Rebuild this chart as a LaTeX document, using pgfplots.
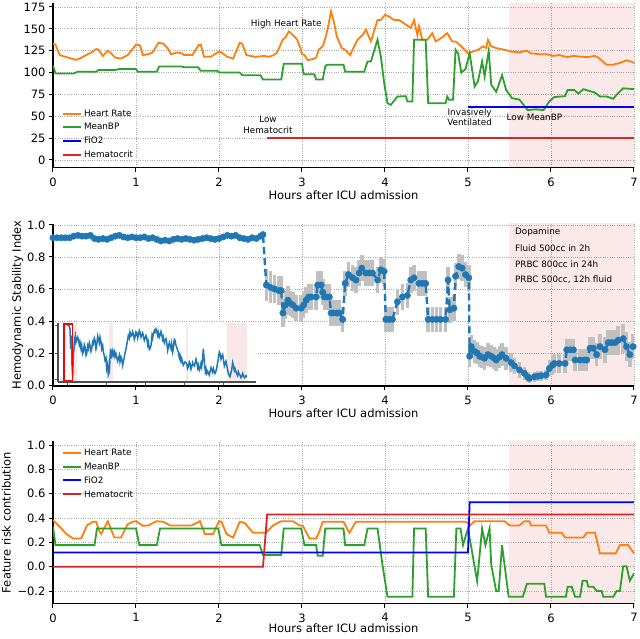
\documentclass[border=0pt]{standalone}
\usepackage{fontspec}
\setmainfont{DejaVu Sans}
\usepackage{pgfplots}
\pgfplotsset{compat=1.18}
\usepackage{pgfplotstable}
\definecolor{hr}{HTML}{FF7F0E}
\definecolor{bp}{HTML}{2CA02C}
\definecolor{fio}{HTML}{0000FF}
\definecolor{hct}{HTML}{D62728}
\definecolor{hsi}{HTML}{1F77B4}
\definecolor{errg}{RGB}{192,192,192}
\definecolor{gridc}{RGB}{170,170,170}
\definecolor{insetax}{RGB}{80,80,80}
\newcommand\tk{\fontsize{11.5}{13}\selectfont}
\newcommand\an{\fontsize{8.8}{10.5}\selectfont}

% ---------- top panel data ----------
\pgfplotstableread{
x y
0 133
0.03 132
0.08 120
0.15 118
0.22 116
0.28 114.5
0.32 116
0.4 120
0.48 124
0.52 127
0.55 126
0.6 119
0.66 125
0.7 122
0.75 117
0.82 116
0.9 120
0.96 127
1.0 132
1.05 131
1.08 120
1.15 121
1.2 123
1.27 134
1.33 133
1.38 128
1.42 121
1.5 123
1.55 122
1.58 120
1.68 120
1.75 131
1.78 132
1.82 118
1.9 118
2.0 124
2.03 123
2.1 118
2.17 116
2.25 134
2.28 133
2.33 120
2.43 118
2.55 119
2.6 118
2.66 120
2.7 123
2.77 138
2.8 140
2.84 147
2.88 144
2.94 138
2.98 128
3.0 121
3.03 120
3.07 114
3.15 116
3.17 117
3.2 126
3.25 130
3.28 139
3.31 150
3.35 170
3.38 160
3.42 141
3.48 128
3.52 126
3.58 120
3.63 130
3.67 137.5
3.73 143
3.77 149
3.83 135.6
3.91 160
3.95 160
4.0 166
4.05 164
4.11 160
4.17 160
4.25 155
4.31 151
4.35 160
4.39 143
4.41 153
4.45 137.5
4.51 137.5
4.57 145
4.61 135.6
4.67 139
4.75 145
4.81 135.6
4.85 135.6
4.92 130
5.0 122
5.06 124
5.12 126
5.18 130
5.22 128
5.24 137.5
5.28 130
5.34 128
5.44 126
5.52 124
5.62 123
5.7 125
5.76 122
5.86 121
5.96 121
6.02 119
6.1 120
6.2 117.6
6.26 119
6.43 117.6
6.53 119
6.57 117
6.67 109
6.75 109
6.83 111
6.91 114
6.95 113
7.0 111
}\tophr

\pgfplotstableread{
x y
0 108
0.03 99
0.25 99
0.3 101
0.52 101
0.55 103
0.75 103
0.8 104
1.0 104
1.02 101
1.25 101
1.28 107
1.55 107
1.58 106
1.75 106
1.78 102
1.98 102
2.0 100
2.25 100
2.28 97
2.5 97
2.53 92
2.75 92
2.78 110
3.0 110
3.02 98
3.15 98
3.17 92
3.25 92
3.28 107
3.3 109
3.5 109
3.52 101
3.75 101
3.79 112.7
3.83 112.7
3.91 137.5
3.95 118.5
3.99 88
4.03 65
4.07 63
4.15 72.6
4.25 73
4.27 67
4.33 67
4.35 137.5
4.49 137.5
4.52 65
4.73 65
4.75 72.6
4.77 69
4.82 69
4.85 126
4.88 122
4.92 100
4.97 104
5.02 122
5.08 84
5.12 90
5.17 112.7
5.2 95.5
5.25 125
5.28 86
5.34 78
5.41 97
5.46 80
5.53 70.7
5.62 69
5.72 57
5.82 58
5.91 57
5.98 67
6.04 72
6.17 73
6.2 80
6.28 80
6.33 76
6.39 81
6.53 77
6.59 72.6
6.67 72.6
6.75 70
6.79 74.5
6.87 82
7.0 81
}\topbp

% ---------- middle panel data ----------
\pgfplotstableread{
x y
0.00 0.92
0.05 0.92
0.10 0.92
0.15 0.92
0.20 0.92
0.25 0.93
0.30 0.935
0.35 0.93
0.40 0.93
0.45 0.935
0.50 0.915
0.55 0.91
0.60 0.915
0.65 0.91
0.70 0.92
0.75 0.93
0.80 0.935
0.85 0.925
0.90 0.92
0.95 0.925
1.00 0.92
1.05 0.92
1.10 0.925
1.15 0.915
1.20 0.92
1.25 0.91
1.30 0.90
1.35 0.905
1.40 0.90
1.45 0.91
1.50 0.915
1.55 0.91
1.60 0.915
1.65 0.91
1.70 0.905
1.75 0.91
1.80 0.915
1.85 0.92
1.90 0.915
1.95 0.91
2.00 0.915
2.05 0.925
2.10 0.935
2.15 0.93
2.20 0.935
2.25 0.92
2.30 0.915
2.35 0.91
2.40 0.92
2.45 0.915
2.50 0.93
2.53 0.94
2.57 0.625
2.62 0.61
2.67 0.60
2.72 0.59
2.75 0.59
2.77 0.45
2.80 0.50
2.83 0.53
2.86 0.51
2.89 0.50
2.93 0.48
2.99 0.48
3.02 0.50
3.05 0.53
3.08 0.55
3.11 0.55
3.17 0.55
3.19 0.625
3.23 0.625
3.25 0.58
3.27 0.55
3.30 0.55
3.33 0.55
3.35 0.45
3.38 0.45
3.42 0.45
3.45 0.45
3.49 0.41
3.52 0.635
3.56 0.69
3.61 0.67
3.65 0.656
3.69 0.70
3.72 0.73
3.77 0.70
3.81 0.70
3.85 0.70
3.91 0.656
3.95 0.72
3.99 0.71
4.01 0.41
4.05 0.41
4.09 0.41
4.15 0.52
4.21 0.55
4.27 0.56
4.31 0.656
4.35 0.67
4.41 0.635
4.45 0.635
4.49 0.635
4.52 0.41
4.57 0.41
4.62 0.41
4.67 0.41
4.73 0.41
4.76 0.656
4.78 0.47
4.83 0.48
4.85 0.68
4.89 0.74
4.93 0.73
4.97 0.69
5.01 0.67
5.02 0.18
5.04 0.24
5.08 0.21
5.11 0.20
5.14 0.18
5.17 0.175
5.20 0.167
5.24 0.19
5.28 0.18
5.31 0.17
5.34 0.156
5.38 0.175
5.41 0.19
5.46 0.167
5.52 0.14
5.56 0.12
5.62 0.094
5.68 0.073
5.72 0.05
5.74 0.042
5.80 0.052
5.84 0.055
5.88 0.058
5.94 0.0625
5.98 0.104
6.02 0.125
6.04 0.135
6.10 0.135
6.17 0.135
6.19 0.22
6.23 0.22
6.27 0.22
6.29 0.156
6.35 0.156
6.40 0.156
6.43 0.156
6.47 0.23
6.51 0.23
6.55 0.19
6.59 0.24
6.65 0.22
6.69 0.265
6.73 0.265
6.77 0.265
6.81 0.28
6.87 0.29
6.91 0.24
6.95 0.19
6.99 0.24
}\hsi

\pgfplotstableread{
x y e
2.57 0.625 0.10
2.62 0.61 0.10
2.67 0.60 0.09
2.72 0.59 0.09
2.75 0.59 0.09
2.77 0.45 0.09
2.80 0.50 0.09
2.83 0.53 0.09
2.86 0.51 0.08
2.89 0.50 0.08
2.93 0.48 0.08
2.99 0.48 0.08
3.02 0.50 0.08
3.05 0.53 0.08
3.08 0.55 0.08
3.11 0.55 0.08
3.17 0.55 0.08
3.19 0.625 0.09
3.23 0.625 0.09
3.25 0.58 0.08
3.27 0.55 0.08
3.30 0.55 0.08
3.33 0.55 0.08
3.35 0.45 0.08
3.38 0.45 0.08
3.42 0.45 0.08
3.45 0.45 0.08
3.49 0.41 0.08
3.52 0.635 0.08
3.56 0.69 0.08
3.61 0.67 0.08
3.65 0.656 0.08
3.69 0.70 0.08
3.72 0.73 0.08
3.77 0.70 0.08
3.81 0.70 0.08
3.85 0.70 0.08
3.91 0.656 0.08
3.95 0.72 0.08
3.99 0.71 0.08
4.01 0.41 0.08
4.05 0.41 0.08
4.09 0.41 0.08
4.15 0.52 0.08
4.21 0.55 0.08
4.27 0.56 0.08
4.31 0.656 0.08
4.35 0.67 0.08
4.41 0.635 0.08
4.45 0.635 0.08
4.49 0.635 0.08
4.52 0.41 0.08
4.57 0.41 0.08
4.62 0.41 0.08
4.67 0.41 0.08
4.73 0.41 0.08
4.76 0.656 0.08
4.78 0.47 0.08
4.83 0.48 0.08
4.85 0.68 0.08
4.89 0.74 0.08
4.93 0.73 0.08
4.97 0.69 0.08
5.01 0.67 0.08
5.02 0.18 0.07
5.04 0.24 0.07
5.08 0.21 0.07
5.11 0.20 0.07
5.14 0.18 0.07
5.17 0.175 0.07
5.20 0.167 0.07
5.24 0.19 0.07
5.28 0.18 0.07
5.31 0.17 0.07
5.34 0.156 0.07
5.38 0.175 0.07
5.41 0.19 0.07
5.46 0.167 0.07
5.52 0.14 0.06
5.56 0.12 0.05
5.62 0.094 0.05
5.68 0.073 0.04
5.72 0.05 0.03
5.74 0.042 0.03
5.80 0.052 0.03
5.84 0.055 0.03
5.88 0.058 0.03
5.94 0.0625 0.03
5.98 0.104 0.05
6.02 0.125 0.06
6.04 0.135 0.06
6.10 0.135 0.06
6.17 0.135 0.06
6.19 0.22 0.07
6.23 0.22 0.07
6.27 0.22 0.07
6.29 0.156 0.07
6.35 0.156 0.07
6.40 0.156 0.07
6.43 0.156 0.07
6.47 0.23 0.07
6.51 0.23 0.07
6.55 0.19 0.07
6.59 0.24 0.08
6.65 0.22 0.08
6.69 0.265 0.08
6.73 0.265 0.08
6.77 0.265 0.08
6.81 0.28 0.09
6.87 0.29 0.09
6.91 0.24 0.09
6.95 0.19 0.08
6.99 0.24 0.08
}\hsierr

% inset trace (inset's own units)
\pgfplotstableread{
x y
52 170
56 172
60 160
62 100
64 140
66 50
68 15
70 80
72 100
74 130
76 140
78 120
80 125
83 135
85 130
88 112
90 120
93 100
95 110
98 85
100 90
103 112
105 105
108 80
110 85
113 108
115 100
118 118
120 110
123 92
125 100
128 120
130 115
133 132
135 125
138 100
140 110
143 138
145 130
148 118
150 135
153 120
155 100
158 110
160 90
163 78
165 65
168 72
170 40
173 55
175 20
178 30
180 70
182 100
184 70
185 85
188 95
190 80
193 90
195 75
198 85
200 75
203 62
205 70
208 80
210 60
213 75
215 70
218 50
220 60
223 75
225 85
228 100
230 110
233 128
235 140
238 132
240 150
243 138
245 140
248 152
250 145
253 128
255 135
258 152
260 150
263 132
265 140
268 155
270 150
273 135
275 140
278 148
280 140
283 125
285 130
288 140
290 135
293 112
295 120
298 98
300 100
303 110
306 140
308 132
310 145
313 155
315 150
318 160
320 155
323 140
325 150
328 135
330 140
333 152
335 145
338 128
340 135
343 118
345 125
348 130
350 120
353 95
355 105
358 118
360 110
363 100
365 115
368 90
370 100
373 128
375 125
378 110
380 105
383 95
385 90
388 72
390 80
393 62
395 70
398 58
400 50
405 60
410 55
413 40
415 45
418 60
420 55
423 38
425 45
428 58
430 50
433 48
435 55
438 68
440 60
443 42
445 50
448 35
450 40
453 55
455 45
458 70
460 100
463 60
466 30
468 38
470 25
473 32
475 25
478 20
480 30
483 42
485 35
488 28
490 40
493 30
495 25
498 32
500 40
503 58
505 70
508 90
510 85
513 68
515 75
518 82
520 70
523 48
525 55
528 62
530 50
533 35
535 25
538 18
540 15
543 28
545 35
548 58
550 50
553 34
555 40
558 30
560 25
563 18
565 30
568 22
570 20
573 12
575 15
578 25
580 20
583 12
585 15
588 18
590 13
}\inset

% ---------- bottom panel data ----------
\pgfplotstableread{
x y
0 0.384
0.02 0.37
0.08 0.33
0.16 0.27
0.24 0.233
0.34 0.233
0.41 0.34
0.48 0.37
0.52 0.37
0.56 0.29
0.58 0.27
0.66 0.375
0.74 0.24
0.82 0.24
0.9 0.35
0.96 0.37
1.0 0.375
1.08 0.337
1.15 0.34
1.25 0.375
1.33 0.37
1.41 0.34
1.67 0.34
1.77 0.375
1.83 0.27
1.93 0.27
2.0 0.375
2.03 0.37
2.09 0.27
2.17 0.24
2.25 0.37
2.31 0.36
2.41 0.28
2.57 0.28
2.65 0.34
2.75 0.375
2.89 0.375
2.97 0.34
3.01 0.337
3.09 0.233
3.17 0.233
3.21 0.29
3.25 0.37
3.5 0.37
3.57 0.28
3.65 0.37
4.98 0.37
5.02 0.337
5.08 0.375
5.44 0.375
5.5 0.34
5.62 0.34
5.68 0.375
5.74 0.375
5.76 0.34
5.94 0.34
5.98 0.28
6.13 0.28
6.17 0.24
6.39 0.24
6.43 0.28
6.53 0.28
6.59 0.11
6.78 0.11
6.83 0.178
6.93 0.178
7.0 0.11
}\bothr

\pgfplotstableread{
x y
0 0.33
0.03 0.178
0.5 0.178
0.53 0.315
1.0 0.315
1.04 0.178
1.25 0.178
1.29 0.315
1.99 0.315
2.03 0.178
2.49 0.178
2.53 0.096
2.75 0.096
2.78 0.315
2.99 0.315
3.03 0.178
3.17 0.178
3.19 0.09
3.25 0.09
3.28 0.315
3.5 0.315
3.52 0.178
3.75 0.178
3.79 0.315
3.91 0.315
3.97 0.014
4.03 -0.247
4.33 -0.247
4.35 0.315
4.49 0.315
4.52 -0.247
4.83 -0.247
4.86 0.315
4.91 0.315
4.94 0.178
5.0 0.315
5.11 -0.118
5.17 0.315
5.21 0.178
5.26 0.315
5.28 0.014
5.34 -0.2
5.37 -0.2
5.41 0.178
5.49 -0.247
5.66 -0.247
5.71 -0.14
5.92 -0.14
5.94 -0.247
6.18 -0.247
6.2 -0.164
6.25 -0.164
6.29 -0.247
6.35 -0.247
6.38 -0.115
6.43 -0.115
6.45 -0.164
6.51 -0.164
6.55 -0.2
6.61 -0.2
6.63 -0.247
6.75 -0.247
6.79 -0.2
6.83 -0.2
6.87 0.005
6.91 0.005
6.95 -0.115
7.0 -0.055
}\botbp

\pgfplotsset{
  panel/.style={
    scale only axis, width=581pt,
    xmin=0, xmax=7, xtick={0,1,2,3,4,5,6,7},
    axis lines=left, axis line style={-, line width=1.1pt},
    tick align=outside, major tick length=4pt,
    tick style={line width=1pt, black},
    grid=major, grid style={gridc, line width=0.8pt, dash pattern=on 0.9pt off 1.4pt},
    tick label style={font=\tk},
    xticklabel style={yshift=-2.5pt},
    label style={font=\tk},
    xlabel style={yshift=2.5pt},
    /pgf/number format/assume math mode=true,
    xlabel={Hours after ICU admission},
    legend cell align=left,
    legend image code/.code={\draw[##1, line width=2pt] (0pt,0pt) -- (18pt,0pt);},
  },
  shade/.style={fill=hct, fill opacity=0.1, draw=none, forget plot},
}

\begin{document}
\begin{tikzpicture}[x=1pt,y=1pt]
\useasboundingbox (0,0) rectangle (640,638);

% ===== top panel =====
\begin{axis}[panel, at={(53pt,470.4pt)}, anchor=south west, height=164.3pt,
  ymin=-8.7, ymax=179.2, ytick={0,25,50,75,100,125,150,175},
  legend style={draw=none, fill=none, font=\an, at={(0.01,0.028)}, anchor=south west, row sep=1.5pt}]
\addplot[shade] coordinates {(5.5,-20) (7,-20) (7,200) (5.5,200)};
\addplot[hr, line width=1.8pt] table {\tophr};
\addlegendentry{Heart Rate}
\addplot[bp, line width=1.8pt] table {\topbp};
\addlegendentry{MeanBP}
\addplot[color=blue, line width=2pt] coordinates {(5.0,60.5) (7.0,60.5)};
\addlegendentry{FiO2}
\addplot[hct, line width=1.8pt] coordinates {(2.58,25) (7.0,25)};
\addlegendentry{Hematocrit}
\node[font=\an] at (axis cs:2.81,155.5) {High Heart Rate};
\node[font=\an, align=center] at (axis cs:2.59,40) {Low\\Hematocrit};
\node[font=\an, align=center] at (axis cs:5.02,49.2) {Invasively\\Ventilated};
\node[font=\an] at (axis cs:5.80,48.8) {Low MeanBP};
\end{axis}

% ===== middle panel =====
\begin{axis}[panel, at={(53pt,252pt)}, anchor=south west, height=162pt,
  ymin=-0.006, ymax=1.006, ytick={0,0.2,0.4,0.6,0.8,1.0},
  yticklabel style={/pgf/number format/.cd, fixed, fixed zerofill, precision=1},
  ylabel={Hemodynamic Stability Index}, ylabel style={yshift=-3pt}]
\addplot[shade] coordinates {(5.5,-1) (7,-1) (7,2) (5.5,2)};
\addplot[draw=none, mark=none, forget plot,
  error bars/.cd, y dir=both, y explicit, error mark=none,
  error bar style={draw=errg, line width=3.6pt, solid}]
  table[x=x, y=y, y error=e] {\hsierr};
\addplot[hsi, line width=2.4pt, dash pattern=on 7pt off 4pt, mark=*, mark size=3.2pt,
  mark options={solid, fill=hsi, draw=hsi, line width=0.4pt}] table {\hsi};
\node[font=\an, anchor=west] at (axis cs:5.525,0.955) {Dopamine};
\node[font=\an, anchor=west] at (axis cs:5.525,0.855) {Fluid 500cc in 2h};
\node[font=\an, anchor=west] at (axis cs:5.525,0.756) {PRBC 800cc in 24h};
\node[font=\an, anchor=west] at (axis cs:5.525,0.656) {PRBC 500cc, 12h fluid};
\end{axis}

% ===== inset =====
\begin{axis}[scale only axis, at={(58pt,256pt)}, anchor=south west, width=198pt, height=59pt,
  xmin=24, xmax=618, ymin=-1, ymax=178,
  axis background/.style={fill=white},
  axis lines=left, axis line style={-, insetax, line width=1.4pt},
  tick align=outside, major tick length=3pt, tick style={insetax, line width=0.9pt},
  xtick={52,168,285,403,520}, ytick={7,87,170},
  xticklabels={}, yticklabels={}]
\addplot[fill=hct, fill opacity=0.1, draw=none] coordinates {(68,-1) (82,-1) (82,178) (68,178)};
\addplot[fill=hct, fill opacity=0.1, draw=none] coordinates {(178,-1) (188,-1) (188,178) (178,178)};
\addplot[fill=hct, fill opacity=0.1, draw=none] coordinates {(408,-1) (414,-1) (414,178) (408,178)};
\addplot[fill=hct, fill opacity=0.1, draw=none] coordinates {(530,-1) (590,-1) (590,178) (530,178)};
\addplot[hsi, line width=1.5pt] table {\inset};
\addplot[red, line width=1.6pt] coordinates {(42,3) (68,3) (68,175) (42,175) (42,3)};
\end{axis}

% ===== bottom panel =====
\begin{axis}[panel, at={(53pt,34.5pt)}, anchor=south west, height=162pt,
  ymin=-0.302, ymax=1.03, ytick={-0.2,0,0.2,0.4,0.6,0.8,1.0},
  yticklabels={−0.2,0.0,0.2,0.4,0.6,0.8,1.0},
  ylabel={Feature risk contribution},
  xlabel style={yshift=3pt},
  legend style={draw=none, fill=none, font=\an, at={(0.01,0.98)}, anchor=north west, row sep=1.8pt}]
\addplot[shade] coordinates {(5.5,-1) (7,-1) (7,2) (5.5,2)};
\addplot[hr, line width=1.8pt] table {\bothr};
\addlegendentry{Heart Rate}
\addplot[bp, line width=1.8pt] table {\botbp};
\addlegendentry{MeanBP}
\addplot[fio, line width=1.8pt] coordinates {(0,0.118) (5.0,0.118) (5.02,0.53) (7,0.53)};
\addlegendentry{FiO2}
\addplot[hct, line width=1.8pt] coordinates {(0,0) (2.53,0) (2.58,0.43) (7,0.43)};
\addlegendentry{Hematocrit}
\end{axis}
\end{tikzpicture}
\end{document}
